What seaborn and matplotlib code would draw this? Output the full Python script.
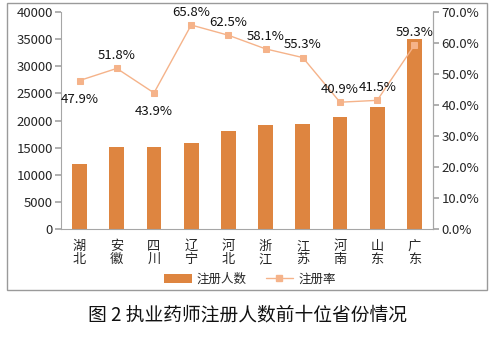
import matplotlib
matplotlib.use("Agg")
import matplotlib.pyplot as plt
import seaborn as sns
import numpy as np
import pandas as pd
from matplotlib.patches import Rectangle
from matplotlib.lines import Line2D
from matplotlib.patches import Patch

provinces = ["湖北", "安徽", "四川", "辽宁", "河北", "浙江", "江苏", "河南", "山东", "广东"]
registered = [12000, 15100, 15200, 15800, 18100, 19200, 19300, 20700, 22500, 35000]
rates = [47.9, 51.8, 43.9, 65.8, 62.5, 58.1, 55.3, 40.9, 41.5, 59.3]
label_below = [True, False, True, False, False, False, False, False, False, False]

sns.set_theme(style="white")
plt.rcParams['font.family'] = ['Noto Sans CJK SC', 'DejaVu Sans']

bar_color = "#DE8540"
line_color = "#F5B38A"
axis_color = "#A6A6A6"

fig = plt.figure(figsize=(4.96, 3.39), dpi=100)
ax = fig.add_axes([61/496, 1-229/339, (433-61)/496, (229-12)/339])

df = pd.DataFrame({"省份": provinces, "注册人数": registered})
sns.barplot(data=df, x="省份", y="注册人数", color=bar_color, width=0.4,
            saturation=1, ax=ax, edgecolor="none")
ax.set_xlim(-0.5, 9.5)
ax.set_ylim(0, 40000)
ax.set_yticks(np.arange(0, 40001, 5000))
ax.set_yticklabels([str(v) for v in range(0, 40001, 5000)], fontsize=9.5)
ax.set_xticks(range(10))
ax.set_xticklabels(["\n".join(p) for p in provinces], fontsize=9.5, linespacing=1.0)
ax.set_xlabel("")
ax.set_ylabel("")
ax.tick_params(axis="x", which="major", length=0, pad=8)
ax.set_xticks(np.arange(-0.5, 10, 1), minor=True)
ax.tick_params(axis="x", which="minor", length=4, color=axis_color, direction="out")
ax.tick_params(axis="y", length=4, color=axis_color, direction="out", pad=2, left=True)
for s in ["top"]:
    ax.spines[s].set_visible(False)
for s in ["left", "bottom", "right"]:
    ax.spines[s].set_color(axis_color)
    ax.spines[s].set_linewidth(0.8)

ax2 = ax.twinx()
sns.lineplot(x=np.arange(10), y=rates, ax=ax2, color=line_color, marker="s",
             markersize=5, markeredgecolor=line_color, linewidth=1.0)
ax2.set_ylim(0, 70)
ax2.set_yticks(np.arange(0, 71, 10))
ax2.set_yticklabels([f"{v:.1f}%" for v in range(0, 71, 10)], fontsize=9.5)
ax2.tick_params(axis="y", length=4, color=axis_color, direction="out", pad=2, right=True)
for s in ["top", "left", "bottom"]:
    ax2.spines[s].set_visible(False)
ax2.spines["right"].set_color(axis_color)
ax2.spines["right"].set_linewidth(0.8)
ax2.set_ylabel("")
ax2.grid(False)
ax.grid(False)

for i, (r, below) in enumerate(zip(rates, label_below)):
    if below:
        ax2.annotate(f"{r:.1f}%", (i, r), xytext=(0, -9), textcoords="offset points",
                     ha="center", va="top", fontsize=9.5, color="#111111")
    else:
        ax2.annotate(f"{r:.1f}%", (i, r), xytext=(0, 4.5), textcoords="offset points",
                     ha="center", va="bottom", fontsize=9.5, color="#111111")

handles = [Patch(facecolor=bar_color, edgecolor="none"),
           Line2D([0], [0], color=line_color, marker="s", markersize=4, linewidth=1.0)]
fig.legend(handles, ["注册人数", "注册率"], loc="center", bbox_to_anchor=(250/496, 1-279/339),
           ncol=2, frameon=False, fontsize=9, handlelength=2.2, columnspacing=1.5,
           handletextpad=0.4)

fig.patches.append(Rectangle((7/496, 1-290/339), 480/496, 287/339, transform=fig.transFigure,
                             fill=False, edgecolor="#9A9A9A", linewidth=1.0))

fig.text(248/496, 1-315/339, "图 2 执业药师注册人数前十位省份情况", ha="center", va="center",
         fontsize=13.5, color="#111111")

fig.savefig("out.png", dpi=100)
